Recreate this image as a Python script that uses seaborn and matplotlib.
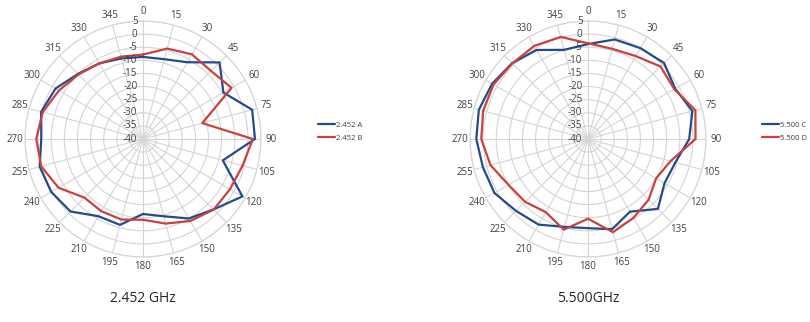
import numpy as np
import pandas as pd
import matplotlib
matplotlib.use("Agg")
import matplotlib.pyplot as plt
import matplotlib.transforms as mtransforms
import seaborn as sns

# Measurement angles (degrees) and radial scale (dB)
angles = list(range(0, 360, 15))
r_ticks = list(range(-40, 10, 5))

# 2.452 GHz patterns
gain_2452_a = [-8.7, -8.5, -6.2, 1.3, -4.6, 3.1, 2.7, -8.5, 3.8, -2.0, -5.0, -9.5,
               -11.4, -6.1, -6.0, -0.9, 0.4, 0.8, -1.2, 0.2, -1.5, -4.9, -6.7, -8.2]
gain_2452_b = [-7.8, -4.3, -2.7, -3.3, -1.0, -16.6, 1.9, -0.7, -1.7, -1.9, -3.9, -6.6,
               -9.2, -8.2, -8.2, -8.4, -2.8, 0.2, 0.7, -0.4, -3.0, -5.2, -6.7, -7.5]

# 5.500 GHz patterns
gain_5500_c = [-3.8, -0.7, 0.0, 1.0, -1.6, 1.2, -1.4, -5.5, -6.3, -2.3, -8.0, -4.4,
               -6.0, -5.3, -2.3, -1.2, 1.2, 1.5, 2.6, 3.1, 2.2, 0.9, -0.8, -4.8]
gain_5500_d = [-3.5, -4.4, -3.5, -0.9, -2.0, 2.4, 1.0, -7.4, -10.0, -7.3, -5.3, -3.2,
               -9.6, -4.2, -7.8, -6.1, -5.0, -1.5, 0.7, 1.4, 1.6, 0.8, 1.0, 0.3]

series_labels = [("2.452 A", "2.452 B"), ("5.500 C", "5.500 D")]
titles = ["2.452 GHz", "5.500GHz"]

BLUE = "#234b8c"
RED = "#c8413f"
GRID = "#d4d4d4"
TXT = "#404040"

sns.set_theme(style="white")
plt.rcParams["font.family"] = ["Open Sans", "DejaVu Sans"]


def closed_frame(values, label):
    th = np.deg2rad(angles + [360])
    v = list(values) + [values[0]]
    return pd.DataFrame({"theta": th, "gain": v, "series": label})


fig = plt.figure(figsize=(8.10, 3.22), dpi=100)
W, H = 810, 322
R = 118
centers = [(143, 139), (588, 139)]
data_sets = [(gain_2452_a, gain_2452_b), (gain_5500_c, gain_5500_d)]
legend_x = [318, 762]

for (cx, cy), (va, vb), (la, lb), title, lx in zip(centers, data_sets, series_labels, titles, legend_x):
    ax = fig.add_axes([(cx - R) / W, (H - cy - R) / H, 2 * R / W, 2 * R / H], projection="polar")
    ax.set_theta_zero_location("N")
    ax.set_theta_direction(-1)
    ax.set_ylim(-40, 5)

    df = pd.concat([closed_frame(va, la), closed_frame(vb, lb)], ignore_index=True)
    sns.lineplot(data=df, x="theta", y="gain", hue="series", palette=[BLUE, RED],
                 sort=False, estimator=None, linewidth=1.6, ax=ax, legend=False)
    ax.set_xlabel("")
    ax.set_ylabel("")

    ax.set_thetagrids(angles, [str(a) for a in angles])
    ax.set_yticks(r_ticks)
    ax.set_yticklabels([])
    ax.grid(True, color=GRID, linewidth=0.8)
    ax.spines["polar"].set_color(GRID)
    ax.spines["polar"].set_linewidth(0.8)
    ax.tick_params(axis="x", labelsize=7, colors=TXT, pad=-6)

    off = mtransforms.offset_copy(ax.transData, fig=fig, x=-4, y=0, units="points")
    for r in r_ticks:
        ax.text(0, r, str(r), transform=off, ha="right", va="center",
                fontsize=7, color=TXT)

    fig.text(cx / W, 1 - 298 / H, title, ha="center", va="center", fontsize=10, color="#262626")

    handles = [plt.Line2D([], [], color=BLUE, linewidth=1.6),
               plt.Line2D([], [], color=RED, linewidth=1.6)]
    fig.legend(handles, [la, lb], loc="center left",
               bbox_to_anchor=(lx / W, 1 - 131.5 / H), frameon=False,
               fontsize=5.5, handlelength=2.2, handletextpad=0.1,
               labelspacing=0.75, borderpad=0, borderaxespad=0,
               labelcolor=TXT)

fig.savefig("out.png", dpi=100, facecolor="white")
